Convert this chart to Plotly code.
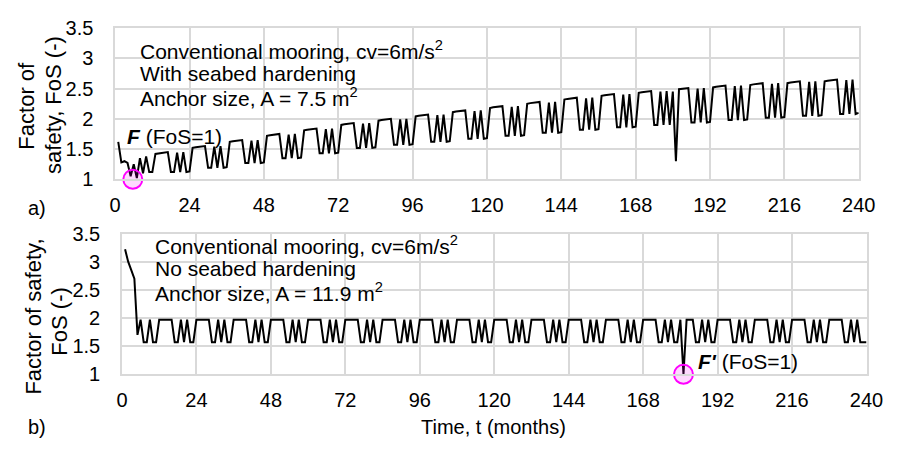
import plotly.graph_objects as go

# ---------------- data ----------------
months = list(range(1, 241))
x_ticks = [0, 24, 48, 72, 96, 120, 144, 168, 192, 216, 240]
y_ticks = [1, 1.5, 2, 2.5, 3, 3.5]
y_tick_labels = ["1", "1.5", "2", "2.5", "3", "3.5"]

# (a) conventional mooring, with seabed hardening, A = 7.5 m2  (rows = 12 months)
fos_a = [
    1.62, 1.28, 1.30, 1.27, 1.05, 1.25, 1.02, 1.35, 1.10, 1.38, 1.12, 1.12,
    1.42, 1.43, 1.44, 1.44, 1.45, 1.12, 1.12, 1.44, 1.12, 1.45, 1.12, 1.13,
    1.52, 1.53, 1.54, 1.54, 1.55, 1.19, 1.19, 1.54, 1.19, 1.55, 1.19, 1.20,
    1.62, 1.63, 1.64, 1.64, 1.65, 1.27, 1.27, 1.64, 1.27, 1.65, 1.27, 1.28,
    1.72, 1.73, 1.74, 1.74, 1.75, 1.35, 1.35, 1.74, 1.35, 1.75, 1.35, 1.36,
    1.81, 1.82, 1.83, 1.83, 1.84, 1.43, 1.43, 1.83, 1.43, 1.84, 1.43, 1.44,
    1.90, 1.91, 1.92, 1.92, 1.93, 1.52, 1.52, 1.92, 1.52, 1.93, 1.52, 1.53,
    1.97, 1.98, 1.99, 1.99, 2.00, 1.57, 1.57, 1.99, 1.57, 2.00, 1.57, 1.58,
    2.04, 2.05, 2.06, 2.06, 2.07, 1.62, 1.62, 2.06, 1.62, 2.07, 1.62, 1.63,
    2.11, 2.12, 2.13, 2.13, 2.14, 1.67, 1.67, 2.13, 1.67, 2.14, 1.67, 1.68,
    2.18, 2.19, 2.20, 2.20, 2.21, 1.72, 1.72, 2.20, 1.72, 2.21, 1.72, 1.73,
    2.25, 2.26, 2.27, 2.27, 2.28, 1.77, 1.77, 2.27, 1.77, 2.28, 1.77, 1.78,
    2.32, 2.33, 2.34, 2.34, 2.35, 1.82, 1.82, 2.34, 1.82, 2.35, 1.82, 1.83,
    2.38, 2.39, 2.40, 2.40, 2.41, 1.86, 1.86, 2.40, 1.86, 2.41, 1.86, 1.87,
    2.43, 2.44, 2.45, 2.45, 2.46, 1.90, 1.90, 2.45, 1.90, 2.46, 1.90, 2.45,
    1.30, 2.49, 2.50, 2.50, 2.51, 1.94, 1.94, 2.50, 1.94, 2.51, 1.94, 1.95,
    2.52, 2.53, 2.54, 2.54, 2.55, 1.98, 1.98, 2.54, 1.98, 2.55, 1.98, 1.99,
    2.56, 2.57, 2.58, 2.58, 2.59, 2.02, 2.02, 2.58, 2.02, 2.59, 2.02, 2.03,
    2.59, 2.60, 2.61, 2.61, 2.62, 2.05, 2.05, 2.61, 2.05, 2.62, 2.05, 2.06,
    2.62, 2.63, 2.64, 2.64, 2.65, 2.08, 2.08, 2.64, 2.08, 2.65, 2.08, 2.10,
]

# (b) conventional mooring, no seabed hardening, A = 11.9 m2
fos_b = [
    3.22, 3.00, 2.85, 2.70, 1.70, 1.97, 1.57, 1.57, 1.97, 1.57, 1.57, 1.97,
    1.97, 1.97, 1.97, 1.97, 1.57, 1.57, 1.97, 1.57, 1.97, 1.57, 1.57, 1.97,
    1.97, 1.97, 1.97, 1.97, 1.57, 1.57, 1.97, 1.57, 1.97, 1.57, 1.57, 1.97,
    1.97, 1.97, 1.97, 1.97, 1.57, 1.57, 1.97, 1.57, 1.97, 1.57, 1.57, 1.97,
    1.97, 1.97, 1.97, 1.97, 1.57, 1.57, 1.97, 1.57, 1.97, 1.57, 1.57, 1.97,
    1.97, 1.97, 1.97, 1.97, 1.57, 1.57, 1.97, 1.57, 1.97, 1.57, 1.57, 1.97,
    1.97, 1.97, 1.97, 1.97, 1.57, 1.57, 1.97, 1.57, 1.97, 1.57, 1.57, 1.97,
    1.97, 1.97, 1.97, 1.97, 1.57, 1.57, 1.97, 1.57, 1.97, 1.57, 1.57, 1.97,
    1.97, 1.97, 1.97, 1.97, 1.57, 1.57, 1.97, 1.57, 1.97, 1.57, 1.57, 1.97,
    1.97, 1.97, 1.97, 1.97, 1.57, 1.57, 1.97, 1.57, 1.97, 1.57, 1.57, 1.97,
    1.97, 1.97, 1.97, 1.97, 1.57, 1.57, 1.97, 1.57, 1.97, 1.57, 1.57, 1.97,
    1.97, 1.97, 1.97, 1.97, 1.57, 1.57, 1.97, 1.57, 1.97, 1.57, 1.57, 1.97,
    1.97, 1.97, 1.97, 1.97, 1.57, 1.57, 1.97, 1.57, 1.97, 1.57, 1.57, 1.97,
    1.97, 1.97, 1.97, 1.97, 1.57, 1.57, 1.97, 1.57, 1.97, 1.57, 1.57, 1.97,
    1.97, 1.97, 1.97, 1.97, 1.57, 1.57, 1.97, 1.57, 1.97, 1.57, 1.57, 1.97,
    1.00, 1.97, 1.97, 1.97, 1.57, 1.57, 1.97, 1.57, 1.97, 1.57, 1.57, 1.97,
    1.97, 1.97, 1.97, 1.97, 1.57, 1.57, 1.97, 1.57, 1.97, 1.57, 1.57, 1.97,
    1.97, 1.97, 1.97, 1.97, 1.57, 1.57, 1.97, 1.57, 1.97, 1.57, 1.57, 1.97,
    1.97, 1.97, 1.97, 1.97, 1.57, 1.57, 1.97, 1.57, 1.97, 1.57, 1.57, 1.97,
    1.97, 1.97, 1.97, 1.97, 1.57, 1.57, 1.97, 1.57, 1.97, 1.57, 1.57, 1.57,
]

# failure points (FoS = 1)
fail_a_x, fail_a_y = [5.7], [1.0]
fail_b_x, fail_b_y = [181], [1.0]

# ---------------- figure ----------------
W, H = 903, 450
FONT = "Liberation Sans, Arial, sans-serif"
GRID = "#d9d9d9"

def px(x):
    return x / W

def py(y):
    return 1 - y / H

fig = go.Figure()
fig.add_trace(go.Scatter(x=months, y=fos_a, mode="lines",
                         line=dict(color="black", width=2), xaxis="x", yaxis="y",
                         showlegend=False))
fig.add_trace(go.Scatter(x=months, y=fos_b, mode="lines",
                         line=dict(color="black", width=2), xaxis="x2", yaxis="y2",
                         showlegend=False))
circle = dict(size=19, color="rgba(255,0,255,0.15)", line=dict(color="#ff00ff", width=2))
fig.add_trace(go.Scatter(x=fail_a_x, y=fail_a_y, mode="markers", marker=circle,
                         cliponaxis=False, xaxis="x", yaxis="y", showlegend=False))
fig.add_trace(go.Scatter(x=fail_b_x, y=fail_b_y, mode="markers", marker=circle,
                         cliponaxis=False, xaxis="x2", yaxis="y2", showlegend=False))

axis_common = dict(showgrid=True, gridcolor=GRID, gridwidth=1.5, zeroline=False,
                   showline=True, linecolor=GRID, linewidth=1.5, mirror=True,
                   tickfont=dict(family=FONT, size=20, color="black"),
                   ticks="outside", tickcolor="rgba(0,0,0,0)")
xcommon = dict(axis_common, range=[0, 240], tickvals=x_ticks, ticklen=7)
ycommon = dict(axis_common, range=[1, 3.5], tickvals=y_ticks, ticktext=y_tick_labels,
               ticklen=16)

fig.update_layout(
    width=W, height=H, margin=dict(l=0, r=0, t=0, b=0),
    paper_bgcolor="white", plot_bgcolor="white",
    font=dict(family=FONT, size=20, color="black"),
    xaxis=dict(xcommon, domain=[px(112), px(875)], anchor="y"),
    yaxis=dict(ycommon, domain=[py(177), py(18)], anchor="x"),
    xaxis2=dict(xcommon, domain=[px(119), px(883)], anchor="y2"),
    yaxis2=dict(ycommon, domain=[py(382), py(234)], anchor="x2"),
)

def note(text, x, y, size=21, angle=0, xanchor="left"):
    fig.add_annotation(text=text, x=px(x), y=py(y), xref="paper", yref="paper",
                       xanchor=xanchor, yanchor="middle", showarrow=False,
                       textangle=angle, font=dict(family=FONT, size=size, color="black"))

# panel (a) texts
note("Conventional mooring, cv=6m/s<sup>2</sup>", 135, 41)
note("With seabed hardening", 135, 66)
note("Anchor size, A = 7.5 m<sup>2</sup>", 135, 90)
note("<b><i>F</i></b> (FoS=1)", 122, 132)
note("Factor of", 21, 99, size=22, angle=-90, xanchor="center")
note("safety, FoS (-)", 48, 99, size=22, angle=-90, xanchor="center")
note("a)", 32, 207, size=20, xanchor="center")

# panel (b) texts
note("Conventional mooring, cv=6m/s<sup>2</sup>", 151, 246)
note("No seabed hardening", 151, 271)
note("Anchor size, A = 11.9 m<sup>2</sup>", 151, 295)
note("<b><i>F'</i></b> (FoS=1)", 708, 368)
note("Factor of safety,", 28, 321, size=22, angle=-90, xanchor="center")
note("FoS (-)", 54, 327, size=22, angle=-90, xanchor="center")
note("b)", 32, 437, size=20, xanchor="center")
note("Time, t (months)", 500, 437, size=20, xanchor="center")

fig.write_html("out.html")
